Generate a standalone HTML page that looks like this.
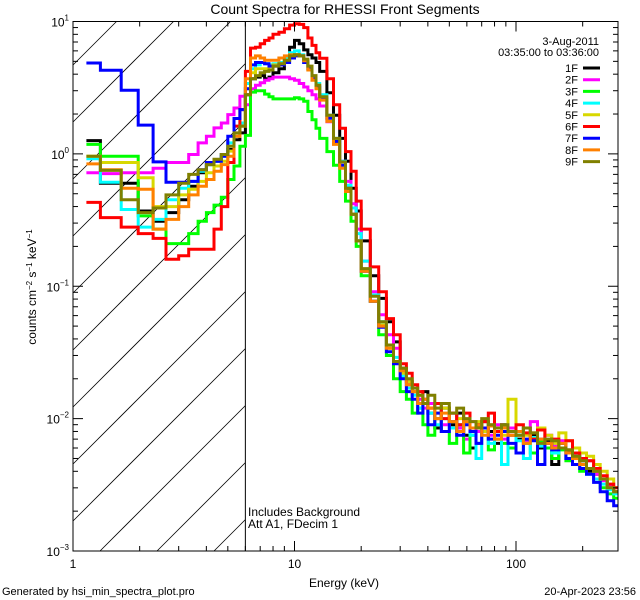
<!DOCTYPE html>
<html><head><meta charset="utf-8"><style>
html,body{margin:0;padding:0;background:#fff;width:640px;height:600px;overflow:hidden;}
svg{display:block;font-family:"Liberation Sans",sans-serif;}
</style></head><body>
<svg id="chart" width="640" height="600" viewBox="0 0 640 600" xmlns="http://www.w3.org/2000/svg" overflow="hidden">
<rect width="640" height="600" fill="#fff"/>
<text x="345" y="14" font-size="14" text-anchor="middle">Count Spectra for RHESSI Front Segments</text>
<g id="hatch"></g>
<g id="series"></g>
<g id="axes"></g>
<text x="344" y="587" font-size="12" text-anchor="middle">Energy (keV)</text>
<text transform="translate(36,287) rotate(-90)" font-size="12" text-anchor="middle">counts cm<tspan baseline-shift="super" font-size="8">−2</tspan> s<tspan baseline-shift="super" font-size="8">−1</tspan> keV<tspan baseline-shift="super" font-size="8">−1</tspan></text>
<text x="248" y="516" font-size="12">Includes Background</text>
<text x="248" y="528" font-size="12">Att A1, FDecim 1</text>
<text x="2" y="595" font-size="11">Generated by hsi_min_spectra_plot.pro</text>
<text x="636" y="595" font-size="11" text-anchor="end">20-Apr-2023 23:56</text>
<g id="legend">
<text x="599" y="45" font-size="11" text-anchor="end">3-Aug-2011</text>
<text x="599" y="56" font-size="11" text-anchor="end">03:35:00 to 03:36:00</text>
</g>
</svg>
<script>
const labels = ["1F","2F","3F","4F","5F","6F","7F","8F","9F"];
const colors = ["#000000","#ff00ff","#00ff00","#00ffff","#d8d800","#ff0000","#0000ff","#ff8000","#808000"];
const edges = [1.15,1.33,1.65,1.97,2.3,2.63,3.0,3.33,3.67,4.0,4.33,4.67,5.0,5.33,5.67,6.0,
6.33,6.67,7,7.33,7.67,8,8.5,9,9.5,10,10.5,11,11.5,12,12.5,13,14,15,16,17,18,19,20,22,24,26,28,30,
32,34,36,38,40,43,46,50,54,58,62,66,70,75,80,86,92,100,108,116,125,135,145,156,168,180,194,208,224,240,258,276,290];
const s1F = [1.26,0.6,0.6,0.37,0.31,0.36,0.45,0.57,0.72,0.83,0.88,0.99,1.08,1.28,1.44,
2.8,3.7,3.8,3.9,3.7,3.8,4.1,4.4,5.3,6.4,7.2,6.8,6.1,5.6,5.3,4.9,4.2,2.9,1.96,1.31,0.88,0.55,0.37,0.22,0.12,0.081,0.054,0.038,
0.024,0.019,0.016,0.013,0.016,0.011,0.0085,0.012,0.009,0.011,0.0075,0.006,0.009,0.0095,0.008,0.0065,0.009,0.008,0.007,0.0085,0.0075,0.006,0.0068,0.0045,0.0065,0.0058,0.005,0.0048,0.004,0.0038,0.0035,0.003,0.0028];
const s2F = [0.72,0.71,0.72,0.72,0.78,0.86,0.86,0.99,1.21,1.36,1.57,1.71,1.98,2.22,2.72,
2.35,3.1,3.3,3.45,3.6,3.7,3.8,3.8,3.8,3.7,3.6,3.4,3.2,3.0,2.8,2.6,2.3,1.75,1.24,0.88,0.62,0.42,0.27,0.155,0.091,0.061,0.043,0.034,
0.022,0.018,0.016,0.014,0.012,0.013,0.010,0.009,0.011,0.0085,0.007,0.0095,0.008,0.0085,0.0075,0.009,0.007,0.0085,0.008,0.0068,0.0095,0.007,0.0075,0.0062,0.0068,0.0055,0.0052,0.0045,0.0048,0.0038,0.0034,0.0031,0.0028];
const s3F = [1.18,0.96,0.96,0.34,0.27,0.21,0.21,0.25,0.31,0.36,0.41,0.47,0.64,0.81,1.14,
1.38,2.93,3.0,3.0,2.83,2.7,2.6,2.6,2.6,2.6,2.65,2.6,2.5,2.09,1.81,1.56,1.31,1.04,0.82,0.62,0.44,0.31,0.2,0.12,0.077,0.043,0.03,0.02,
0.016,0.014,0.011,0.012,0.009,0.0075,0.010,0.008,0.0065,0.009,0.0055,0.0075,0.0065,0.008,0.0058,0.007,0.0065,0.006,0.0075,0.0065,0.0055,0.0068,0.006,0.005,0.0058,0.0048,0.0045,0.004,0.0042,0.0035,0.003,0.0027,0.0025];
const s4F = [0.92,0.61,0.38,0.28,0.32,0.45,0.55,0.62,0.74,0.83,0.88,0.96,1.21,1.36,1.71,
3.4,4.4,4.7,4.9,4.8,4.7,4.8,4.9,5.3,5.8,6.0,5.6,4.9,4.4,3.8,3.4,2.8,1.96,1.31,0.88,0.58,0.39,0.25,0.155,0.086,0.054,0.036,0.029,
0.021,0.017,0.015,0.012,0.013,0.011,0.009,0.010,0.0085,0.008,0.0095,0.0075,0.005,0.0085,0.0065,0.008,0.0045,0.0075,0.0068,0.005,0.0072,0.0062,0.0065,0.0055,0.006,0.005,0.0052,0.0045,0.0038,0.0035,0.0032,0.0029,0.0027];
const s5F = [0.96,0.86,0.86,0.66,0.4,0.4,0.49,0.54,0.62,0.72,0.81,0.88,1.05,1.36,1.62,
3.1,4.1,4.4,4.4,4.4,4.6,4.7,4.8,5.1,5.5,5.6,5.5,5.05,4.3,3.7,3.3,2.6,1.86,1.24,0.82,0.54,0.35,0.22,0.13,0.077,0.051,0.034,0.027,
0.022,0.019,0.016,0.015,0.013,0.012,0.011,0.012,0.0095,0.010,0.009,0.0085,0.0095,0.008,0.009,0.0085,0.0075,0.014,0.008,0.0075,0.007,0.0085,0.0075,0.0065,0.0078,0.0068,0.006,0.0055,0.0052,0.0045,0.004,0.0035,0.003];
const s6F = [0.43,0.33,0.28,0.25,0.23,0.16,0.17,0.19,0.19,0.19,0.27,0.4,0.86,1.62,2.16,
4.2,6.3,6.4,6.8,7.2,7.5,8.0,8.3,8.8,9.4,9.6,9.5,9.0,7.5,6.6,5.8,5.27,3.7,2.35,1.56,1.04,0.74,0.44,0.27,0.14,0.091,0.057,0.043,
0.026,0.022,0.018,0.016,0.014,0.012,0.013,0.010,0.011,0.009,0.011,0.0085,0.009,0.0095,0.011,0.008,0.0085,0.0075,0.009,0.0078,0.007,0.0082,0.0065,0.007,0.006,0.0068,0.0055,0.005,0.0048,0.0042,0.0037,0.0032,0.003];
const s7F = [4.86,4.28,3.02,1.65,0.87,0.61,0.61,0.62,0.76,0.86,0.88,0.96,1.36,1.85,2.16,
3.1,4.7,4.9,4.9,4.8,4.6,4.6,4.7,4.9,5.3,5.5,5.5,4.9,4.4,3.7,3.2,2.6,1.86,1.24,0.82,0.55,0.35,0.22,0.13,0.077,0.049,0.032,0.026,
0.02,0.016,0.014,0.011,0.013,0.009,0.011,0.008,0.0095,0.0075,0.009,0.008,0.0065,0.0085,0.007,0.0075,0.008,0.0065,0.0055,0.007,0.0068,0.0045,0.0065,0.0058,0.006,0.005,0.0045,0.0042,0.0038,0.0033,0.0028,0.0024,0.0022];
const s8F = [0.84,0.76,0.55,0.54,0.27,0.32,0.4,0.49,0.57,0.64,0.74,0.83,0.96,1.36,1.62,
3.7,5.3,5.5,5.3,5.1,5.1,5.1,5.3,5.5,5.6,5.6,5.5,5.05,4.3,3.6,3.1,2.55,1.76,1.18,0.78,0.52,0.35,0.22,0.13,0.077,0.05,0.034,0.027,
0.023,0.018,0.016,0.013,0.014,0.012,0.010,0.011,0.0095,0.008,0.0095,0.0085,0.009,0.0075,0.0088,0.007,0.0085,0.0075,0.008,0.0065,0.0078,0.007,0.0065,0.006,0.0065,0.0055,0.005,0.0045,0.0042,0.004,0.0035,0.003,0.0028];
const s9F = [0.96,0.75,0.45,0.36,0.39,0.49,0.6,0.7,0.76,0.83,0.91,0.99,1.14,1.44,1.62,
2.8,3.7,3.9,4.1,4.2,4.3,4.6,4.8,5.1,5.5,5.6,5.5,5.2,4.6,3.9,3.3,2.7,1.96,1.31,0.87,0.55,0.35,0.22,0.136,0.084,0.054,0.036,0.027,
0.024,0.02,0.017,0.015,0.013,0.015,0.012,0.013,0.011,0.012,0.010,0.0095,0.0085,0.010,0.009,0.0085,0.009,0.008,0.0075,0.0085,0.0078,0.0065,0.007,0.0068,0.006,0.0058,0.0052,0.0048,0.0042,0.004,0.0035,0.003,0.0028];
const seriesValues = [s1F,s2F,s3F,s4F,s5F,s6F,s7F,s8F,s9F];
const xTickLabels = ["1","10","100"];
const xTickValues = [1,10,100];
const yTickExps = [-3,-2,-1,0,1];

const NS = "http://www.w3.org/2000/svg";
const L = 73, R = 618, T = 21.5, B = 551;
const XMIN = 1, XMAX = Math.pow(10,(R-L)/221.5), YMIN = 1e-3, YMAX = 10;
function xs(e){ return L + (Math.log10(e)-Math.log10(XMIN))/(Math.log10(XMAX)-Math.log10(XMIN))*(R-L); }
function ys(v){ return B - (Math.log10(v)-Math.log10(YMIN))/(Math.log10(YMAX)-Math.log10(YMIN))*(B-T); }
function mk(tag, attrs, parent){ const el = document.createElementNS(NS, tag); for (const k in attrs) el.setAttribute(k, attrs[k]); parent.appendChild(el); return el; }

const svg = document.getElementById("chart");
const defs = mk("defs", {}, svg);
const cp = mk("clipPath", {id:"plotclip"}, defs);
mk("rect", {x:L, y:T, width:R-L, height:B-T}, cp);
const cut = 6.0;
const XC = xs(cut);

// hatch lines: y = k - x, clipped analytically to [L,XC]x[T,B]
const hg = document.getElementById("hatch");
for (let c = -600; c < 700; c += 57) {
  const k = c + 380 + L; // line passes (L, c+380)
  let xa = Math.max(L, k - B), xb = Math.min(XC, k - T);
  if (xb <= xa) continue;
  const ln = mk("line", {x1:xa, y1:k-xa, x2:xb, y2:k-xb, stroke:"#000", "stroke-width":"0.8"}, hg);
  
  
}
const vl = mk("line", {x1:XC, y1:T, x2:XC, y2:B, stroke:"#000", "stroke-width":"1"}, hg);



const sg = document.getElementById("series");
sg.setAttribute("clip-path","url(#plotclip)");
seriesValues.forEach((vals, si) => {
  let d = "";
  for (let i = 0; i < vals.length; i++) {
    const x0 = xs(edges[i]), x1 = Math.min(R, xs(edges[i+1])), y = ys(vals[i]);
    d += (i === 0 ? "M" : "L") + x0.toFixed(1) + "," + y.toFixed(1) + "L" + x1.toFixed(1) + "," + y.toFixed(1);
  }
  const p = mk("path", {d:d, fill:"none", stroke:colors[si], "stroke-width":"3", "stroke-linejoin":"miter"}, sg);
  
  
});

const ag = document.getElementById("axes");
const frame = mk("rect", {x:L, y:T, width:R-L, height:B-T, fill:"none", stroke:"#000", "stroke-width":"1"}, ag);


for (let dec = 0; dec <= 2; dec++) {
  for (let m = 1; m <= 9; m++) {
    const e = m * Math.pow(10, dec);
    if (e > XMAX) break;
    const x = xs(e), len = m === 1 ? 10 : 5;
    const t1 = mk("line", {x1:x, y1:B, x2:x, y2:B-len, stroke:"#000"}, ag);
    
    
    const t2 = mk("line", {x1:x, y1:T, x2:x, y2:T+len, stroke:"#000"}, ag);
    
    
  }
}
xTickValues.forEach((v, i) => {
  const t = mk("text", {x:xs(v), y:B+17, "font-size":"12", "text-anchor":"middle"}, ag);
  t.textContent = xTickLabels[i];
  
  
});
yTickExps.forEach((ex) => {
  for (let m = 1; m <= 9; m++) {
    const v = m * Math.pow(10, ex);
    if (v > YMAX + 1e-9) break;
    const y = ys(v), len = m === 1 ? 10 : 5;
    const t1 = mk("line", {x1:L, y1:y, x2:L+len, y2:y, stroke:"#000"}, ag);
    
    
    const t2 = mk("line", {x1:R, y1:y, x2:R-len, y2:y, stroke:"#000"}, ag);
    
    
  }
  const t = mk("text", {x:L-4, y:ys(Math.pow(10,ex))+5, "font-size":"12", "text-anchor":"end"}, ag);
  
  
  const base = document.createElementNS(NS, "tspan"); base.textContent = "10"; t.appendChild(base);
  const sup = document.createElementNS(NS, "tspan");
  sup.setAttribute("dy", "-6"); sup.setAttribute("font-size", "8");
  sup.textContent = ex < 0 ? "−" + (-ex) : String(ex);
  t.appendChild(sup);
});

const lg = document.getElementById("legend");
labels.forEach((lab, i) => {
  const y = 68 + i * 11.7;
  const t = mk("text", {x:578, y:y+4, "font-size":"11", "text-anchor":"end"}, lg);
  t.textContent = lab;
  
  
  const ln = mk("line", {x1:583, y1:y, x2:600, y2:y, stroke:colors[i], "stroke-width":"3"}, lg);
  
  
});
</script>
</body></html>
